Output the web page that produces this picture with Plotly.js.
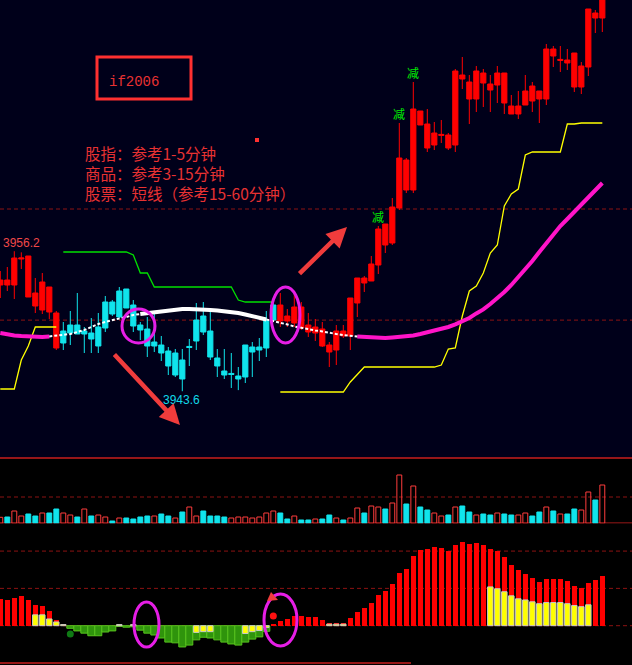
<!DOCTYPE html>
<html><head><meta charset="utf-8">
<script src="https://cdn.plot.ly/plotly-3.0.1.min.js"></script>
<style>html,body{margin:0;padding:0;background:#000;overflow:hidden}#chart{width:632px;height:665px}</style>
</head><body><div id="chart"></div>
<script>
const _ = null;
// ---- candles (price) ----
const open = [
3953.16,3953.16,3953.16,3955.50,3952.08,3951.27,3950.91,3950.73,3947.49,3949.02,
3949.56,3949.56,3949.02,3948.84,3949.38,3951.63,3951.63,3952.62,3952.80,3951.36,
3949.56,3949.20,3948.03,3947.76,3947.22,3947.04,3946.41,3947.63,3950.01,3950.37,
3949.02,3946.59,3945.42,3945.20,3944.97,3947.76,3947.58,3947.58,3950.01,3951.36,
3949.92,3949.92,3949.74,3949.29,3948.93,3948.84,3947.67,3947.13,3947.31,3948.57,
3948.57,3951.54,3953.34,3953.52,3954.96,3956.76,3956.94,3960.09,3961.71,3961.71,
3967.56,3965.49,3965.76,3966.62,3965.49,3965.76,3971.70,3969.90,3969.90,3971.34,
3970.71,3971.16,3969.54,3968.55,3968.55,3969.36,3969.72,3969.90,3969.90,3973.77,
3973.37,3973.14,3970.98,3970.98,3972.78,3977.19,3977.19];
const close = [
3953.61,3953.61,3955.59,3955.59,3955.77,3952.44,3953.43,3952.98,3950.64,3947.94,
3948.84,3948.75,3948.75,3948.30,3947.67,3949.29,3950.55,3950.28,3951.09,3949.47,
3949.11,3947.67,3947.67,3947.04,3945.87,3945.06,3944.70,3947.54,3948.12,3948.93,
3946.68,3945.87,3945.06,3945.11,3944.70,3944.88,3947.13,3947.31,3947.49,3950.01,
3951.36,3950.37,3951.18,3951.18,3949.56,3949.38,3949.20,3947.76,3949.02,3949.02,
3951.99,3953.79,3953.79,3955.05,3958.20,3958.65,3960.18,3964.59,3964.41,3969.00,
3968.82,3967.65,3966.84,3966.71,3966.66,3972.42,3972.06,3971.43,3972.42,3972.24,
3971.25,3972.24,3972.24,3969.27,3969.27,3970.62,3971.07,3970.62,3974.40,3974.40,
3973.46,3973.41,3974.04,3972.87,3978.00,3977.64,3979.71];
const high = [
3954.42,3954.78,3956.20,3956.10,3955.77,3953.79,3954.24,3952.98,3950.82,3949.83,
3950.82,3952.44,3949.38,3950.19,3950.64,3952.17,3951.81,3952.98,3952.80,3951.81,
3949.83,3950.28,3950.82,3948.57,3947.58,3947.40,3947.40,3948.30,3951.54,3951.63,
3950.91,3947.40,3947.40,3947.04,3945.78,3947.76,3948.03,3948.39,3950.82,3951.72,
3952.44,3951.00,3952.35,3951.63,3950.64,3950.10,3949.83,3948.03,3949.56,3949.56,
3951.99,3953.79,3953.97,3955.77,3958.47,3958.65,3960.99,3967.74,3964.59,3971.43,
3968.82,3969.00,3967.83,3968.01,3966.84,3972.60,3973.68,3972.06,3972.87,3972.60,
3972.06,3972.87,3972.24,3970.26,3970.62,3972.06,3971.43,3970.62,3974.85,3974.67,
3974.67,3974.40,3974.04,3973.23,3978.00,3977.91,3980.50];
const low = [
3951.99,3952.62,3951.90,3954.60,3952.08,3950.64,3950.55,3950.10,3947.31,3947.31,
3947.76,3948.75,3947.04,3947.04,3947.04,3948.93,3950.37,3950.19,3951.09,3948.93,
3948.21,3946.68,3947.13,3946.32,3945.06,3944.88,3943.60,3945.87,3947.31,3948.66,
3946.41,3944.88,3944.70,3943.89,3943.70,3944.34,3944.88,3946.32,3946.68,3949.83,
3949.38,3949.38,3949.38,3949.11,3948.48,3948.12,3947.58,3945.78,3945.96,3948.39,
3947.31,3950.28,3952.53,3953.52,3954.15,3956.04,3956.76,3959.91,3961.44,3961.44,
3967.56,3965.13,3965.31,3965.94,3965.31,3965.13,3970.80,3967.65,3968.73,3969.18,
3968.73,3969.54,3968.55,3968.55,3968.10,3969.36,3968.73,3967.74,3969.36,3972.78,
3972.33,3972.51,3970.53,3970.35,3971.97,3975.84,3975.93];
const candleColor = ('RRRRRRRRRC'+'CCCCCCCCCC'+'CCCCCCCCCC'+'CCCCCCCCCC'+'RRRRRRRRRR'+
  'RRRRRRRRRR'+'RRRRRRRRRR'+'RRRRRRRRRR'+'RRRRRRR').split('');

// ---- indicator lines (price) ----
const maLine = [
3948.84,3948.71,3948.62,3948.57,3948.53,3948.48,3948.48,3948.53,3948.62,3948.66,
3948.75,3948.93,3949.11,3949.38,3949.65,3949.83,3950.01,3950.15,3950.28,3950.46,
3950.55,3950.64,3950.73,3950.82,3950.91,3950.96,3951.00,3951.00,3951.00,3950.96,
3950.91,3950.87,3950.82,3950.73,3950.64,3950.51,3950.37,3950.19,3950.06,3949.92,
3949.79,3949.61,3949.43,3949.29,3949.16,3949.07,3948.98,3948.84,3948.75,3948.66,
3948.57,3948.53,3948.48,3948.44,3948.39,3948.39,3948.44,3948.48,3948.53,3948.62,
3948.75,3948.89,3949.02,3949.20,3949.38,3949.61,3949.88,3950.19,3950.60,3950.96,
3951.45,3951.95,3952.53,3953.16,3953.84,3954.51,3955.32,3956.13,3956.94,3957.75,
3958.47,3959.10,3959.73,3960.45,3961.08,3961.71,3962.34];
const greenStop = [
_,_,_,_,_,_,_,_,_,3956.13,
3956.13,3956.13,3956.13,3956.13,3956.13,3956.13,3956.13,3956.13,3956.13,3955.86,
3954.24,3954.24,3952.98,3952.98,3952.98,3952.98,3952.98,3952.98,3952.98,3952.98,
3952.98,3952.98,3952.98,3952.98,3951.81,3951.63,3951.63,3951.63,3951.63,3951.63,
_,_,_,_,_,_,_,_,_,_, _,_,_,_,_,_,_,_,_,_, _,_,_,_,_,_,_,_,_,_, _,_,_,_,_,_,_,_,_,_, _,_,_,_,_,_,_];
const yellowStop = [
3943.80,3943.80,3943.80,3946.41,3947.67,3949.38,3949.38,3949.38,3949.38,_,
_,_,_,_,_,_,_,_,_,_, _,_,_,_,_,_,_,_,_,_, _,_,_,_,_,_,_,_,_,_,
3943.53,3943.53,3943.53,3943.53,3943.53,3943.53,3943.53,3943.53,3943.53,3943.53,
3944.43,3945.15,3945.78,3945.78,3945.78,3945.78,3945.78,3945.78,3945.78,3945.78,
3945.78,3945.78,3945.78,3945.96,3947.40,3947.49,3950.37,3952.62,3953.07,3954.24,
3956.04,3956.76,3960.27,3961.35,3961.80,3964.86,3965.13,3965.13,3965.13,3965.13,
3965.13,3967.65,3967.65,3967.74,3967.74,3967.74,3967.74];

// ---- volume ----
const vol = [
600,630,1230,730,930,730,1030,1030,1430,1030,
830,630,1430,730,830,630,230,530,530,430,
630,730,730,930,730,530,1130,1630,730,1230,
730,730,630,530,630,630,530,630,1030,1230,
1030,430,730,330,330,430,430,830,530,330,
530,1530,1030,1730,1630,1430,2030,4830,1930,3730,
1630,1330,1030,730,830,1630,1730,1130,830,930,
830,1030,930,830,830,1030,730,1130,1630,1230,
930,930,1430,1330,3130,2330,3830];
const volDir = ('RCRRCCRCCR'+'RCRCRRCRCC'+'CCRCCRCRRC'+'CCCRRRRRRR'+'CCRCCRCCRC'+
  'RRCRRCRRCR'+'CCRRCRCCRC'+'CRCCRRCCRC'+'RCCRRCR').split('');

// ---- MACD-style histogram ----
const macdRed = [
.72,.69,.74,.80,.69,.55,.53,.39,.15,.05,
_,_,_,_,_,_,_,_,_,_, _,_,_,_,_,_,_,_,_,_,
_,_,_,_,_,_,_,_,_,.04,
.12,.18,.26,.26,.23,.23,.15,.07,.07,.07,
.21,.37,.47,.61,.82,.93,1.12,1.41,1.52,1.87,
2.03,2.06,2.11,2.08,2.00,2.16,2.24,2.19,2.22,2.16,
2.06,2.00,1.84,1.63,1.49,1.39,1.28,1.17,1.25,1.25,
1.25,1.20,1.06,1.01,1.14,1.22,1.33];
const macdGreen = [
_,_,_,_,_,_,_,_,_,_,
-.07,-.14,-.20,-.27,-.27,-.17,-.14,-.02,-.04,-.03,
-.12,-.20,-.25,-.33,-.44,-.46,-.57,-.52,-.38,-.31,
-.33,-.38,-.44,-.49,-.52,-.44,-.36,-.30,-.15,_,
_,_,_,_,_,_,_,_,_,_, _,_,_,_,_,_,_,_,_,_, _,_,_,_,_,_,_,_,_,_, _,_,_,_,_,_,_,_,_,_, _,_,_,_,_,_,_];
const macdYellow = [
_,_,_,_,_,.29,.29,.18,.10,.03,
_,_,_,_,_,_,_,.03,_,.03,
_,_,_,_,_,_,_,_,-.18,-.16,
-.16,_,_,_,_,-.21,-.16,-.13,-.05,_,
_,_,_,_,_,_,_,.04,.04,.04,
_,_,_,_,_,_,_,_,_,_, _,_,_,_,_,_,_,_,_,_,
1.04,.99,.91,.80,.72,.69,.64,.59,.62,.62,
.62,.59,.54,.51,.56,_,_];
const dotGreenX = [10], dotGreenY = [-0.22];
const dotRedX = [39], dotRedY = [0.26];
const jianIdx = [54, 57, 59];

// ---- build ----
const idx = vol.map((_v, i) => i);
const RED = '#ff0000', CYAN = '#10e4ec';
function sel(arr, c) { return arr.filter((_v, i) => candleColor[i] === c); }
function candle(c, col) {
  return {type:'candlestick', x: sel(idx,c), open: sel(open,c), high: sel(high,c), low: sel(low,c), close: sel(close,c),
    xaxis:'x', yaxis:'y', whiskerwidth:0, hoverinfo:'skip', showlegend:false,
    increasing:{line:{color:col,width:1}, fillcolor:col}, decreasing:{line:{color:col,width:1}, fillcolor:col}};
}
function seg(a, b) { return maLine.map((v, i) => (i >= a && i <= b) ? v : null); }
const line = (y, color, width, dash) => ({type:'scatter', mode:'lines', x: idx, y, xaxis:'x', yaxis:'y',
  line:{color, width, dash: dash || 'solid'}, hoverinfo:'skip', showlegend:false, connectgaps:false});

const traces = [
  line(yellowStop, '#ffff00', 1.3),
  line(greenStop, '#00e000', 1.3),
  line(seg(0, 7), '#ff14c8', 4),
  line(seg(51, 86), '#ff14c8', 4),
  line(seg(7, 20), '#ffffff', 2, '3px,2px'),
  line(seg(20, 38), '#ffffff', 4),
  line(seg(38, 51), '#ffffff', 2, '3px,2px'),
  candle('C', CYAN),
  candle('R', RED),
  {type:'bar', x: idx, y: vol, xaxis:'x', yaxis:'y2', width:0.7, hoverinfo:'skip',
   marker:{color: volDir.map(d => d === 'R' ? 'rgba(0,0,0,0)' : CYAN),
           line:{color: volDir.map(d => d === 'R' ? '#ff3c3c' : CYAN), width:1}}},
  {type:'bar', x: idx, y: macdRed, xaxis:'x', yaxis:'y3', width:0.72, hoverinfo:'skip', marker:{color:RED, line:{width:0}}},
  {type:'bar', x: idx, y: macdGreen, xaxis:'x', yaxis:'y3', width:1.0, hoverinfo:'skip', marker:{color:'#2f940c', line:{color:'#58c41e', width:1}}},
  {type:'bar', x: idx, y: macdYellow, xaxis:'x', yaxis:'y3', width:0.78, hoverinfo:'skip', marker:{color:'#ffff00', line:{color:'#c8c8c8', width:1}}},
  {type:'scatter', mode:'markers', x: dotGreenX, y: dotGreenY, xaxis:'x', yaxis:'y3', hoverinfo:'skip', marker:{color:'#0f7a14', size:7}},
  {type:'scatter', mode:'markers', x: dotRedX, y: dotRedY, xaxis:'x', yaxis:'y3', hoverinfo:'skip', marker:{color:'#ff1010', size:7}}
];

const W = 632, H = 665;
const px = x => x / W, py = y => 1 - y / H;
const DR = '#8c1212', SR = '#c81e1e', MAG = '#e61ee6';
const hline = (yref, y, color, width, dash, x1) => ({type:'line', xref:'paper', yref, x0:0, x1: x1 === undefined ? 1 : x1, y0:y, y1:y,
  line:{color, width, dash: dash || 'solid'}, layer:'below'});
const ell = (x0, y0, x1, y1) => ({type:'circle', xref:'paper', yref:'paper', x0:px(x0), x1:px(x1), y0:py(y1), y1:py(y0),
  line:{color:MAG, width:3}, layer:'above'});

const shapes = [
  {type:'rect', xref:'paper', yref:'paper', x0:0, x1:1, y0:py(458), y1:1, fillcolor:'#00001a', line:{width:0}, layer:'below'},
  hline('y', 3960, DR, 1, '4px,3px'),
  hline('y', 3950, DR, 1, '4px,3px'),
  hline('paper', py(458), SR, 1.5),
  hline('y2', 0, SR, 1.5),
  hline('y2', 2630, DR, 1, '4px,3px'),
  hline('y3', 2, DR, 1, '4px,3px'),
  hline('y3', 1, DR, 1, '4px,3px'),
  hline('y3', 0, DR, 1, '4px,3px'),
  hline('y3', -1, SR, 1.5, 'solid', px(411)),
  ell(122, 309, 155, 343),
  ell(271, 287, 300, 343),
  ell(134, 602, 159, 647),
  ell(264, 594, 297, 646),
  {type:'rect', xref:'paper', yref:'paper', x0:px(97), x1:px(191), y0:py(99), y1:py(57), line:{color:'#ff3030', width:3}, layer:'above'},
  {type:'rect', xref:'paper', yref:'paper', x0:px(255), x1:px(259), y0:py(142), y1:py(138), fillcolor:'#ff3030', line:{width:0}},
  {type:'path', xref:'paper', yref:'paper', fillcolor:'#f03c3c', line:{width:0},
   path:'M '+px(271)+' '+py(592)+' L '+px(267)+' '+py(601)+' L '+px(278)+' '+py(600)+' Z'}
];

const TXT = '#e83232';
const annotations = [
  {xref:'paper', yref:'paper', x:px(134), y:py(81.5), text:'if2006', showarrow:false, xanchor:'center', yanchor:'middle',
   font:{family:'Liberation Mono, monospace', size:14, color:TXT}},
  {xref:'paper', yref:'paper', x:px(83), y:py(172.5), text:'股指：参考1-5分钟<br>商品：参考3-15分钟<br>股票：短线（参考15-60分钟）',
   showarrow:false, xanchor:'left', yanchor:'middle', align:'left',
   font:{family:'Noto Sans CJK SC', size:15.5, color:TXT}},
  {xref:'paper', yref:'paper', x:px(2), y:py(243), text:'3956.2', showarrow:false, xanchor:'left', yanchor:'middle',
   font:{family:'Liberation Sans', size:12, color:'#f04848'}, borderpad:0},
  {xref:'paper', yref:'paper', x:px(181), y:py(399.5), text:'3943.6', showarrow:false, xanchor:'center', yanchor:'middle',
   font:{family:'Liberation Sans', size:12, color:'#10d8e8'}},
  {xref:'paper', yref:'paper', x:px(180), y:py(425), ax:-67, ay:-72, text:'', showarrow:true, arrowhead:2, arrowsize:0.9, arrowwidth:4.5, arrowcolor:'#f03c3c'},
  {xref:'paper', yref:'paper', x:px(347), y:py(227), ax:-49, ay:48, text:'', showarrow:true, arrowhead:2, arrowsize:0.9, arrowwidth:4.5, arrowcolor:'#f03c3c'}
].concat(jianIdx.map(i => ({xref:'x', yref:'y', x:i, y:high[i], text:'减', showarrow:false, xanchor:'center', yanchor:'bottom',
   font:{family:'Noto Sans CJK SC', size:12, color:'#00ee00'}, borderpad:0})));

const layout = {
  width:W, height:H, margin:{l:0, r:0, t:0, b:0, pad:0},
  paper_bgcolor:'#000000', plot_bgcolor:'rgba(0,0,0,0)', showlegend:false, hovermode:false,
  barmode:'overlay', bargap:0, boxgap:0.14, boxgroupgap:0.14,
  xaxis:{domain:[0,1], range:[-0.043, 90.24], visible:false, rangeslider:{visible:false}, fixedrange:true},
  yaxis:{domain:[py(458), 1], range:[3937.59, 3978.81], visible:false, fixedrange:true},
  yaxis2:{domain:[py(523.3), py(458)], range:[0, 6530], visible:false, fixedrange:true},
  yaxis3:{domain:[0, py(523.3)], range:[-1.054, 2.745], visible:false, fixedrange:true},
  shapes, annotations
};
Plotly.newPlot('chart', traces, layout, {staticPlot:true, displayModeBar:false});
</script></body></html>
